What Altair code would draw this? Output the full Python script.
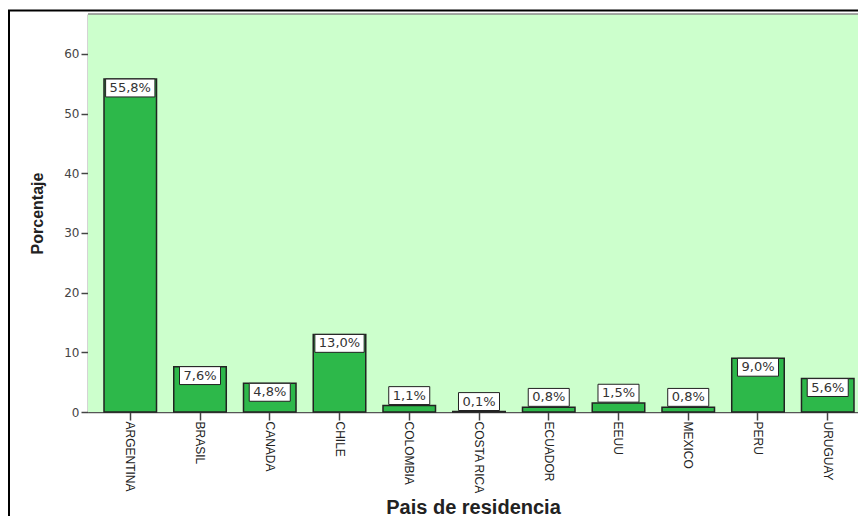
import altair as alt
import pandas as pd

paises = ["ARGENTINA", "BRASIL", "CANADA", "CHILE", "COLOMBIA", "COSTA RICA",
          "ECUADOR", "EEUU", "MEXICO", "PERU", "URUGUAY"]
porcentajes = [55.8, 7.6, 4.8, 13.0, 1.1, 0.1, 0.8, 1.5, 0.8, 9.0, 5.6]
etiquetas = ["55,8%", "7,6%", "4,8%", "13,0%", "1,1%", "0,1%",
             "0,8%", "1,5%", "0,8%", "9,0%", "5,6%"]
y_ticks = [0, 10, 20, 30, 40, 50, 60]

df = pd.DataFrame({"pais": paises, "pct": porcentajes, "etiqueta": etiquetas})

x_axis = alt.Axis(
    title="Pais de residencia", labelAngle=90, labelAlign="left", labelBaseline="middle",
    labelFont="Liberation Sans", labelFontSize=12, labelColor="#222", labelPadding=1,
    tickSize=8, tickColor="#444", tickWidth=1.5, domainColor="#555", domainWidth=1.5,
    titleFont="Liberation Sans", titleFontSize=20, titleFontWeight="bold", titleColor="#222",
    titleY=101, titleBaseline="alphabetic", labelOverlap=False,
)
x_enc = alt.X("pais:N", sort=paises, axis=x_axis,
              scale=alt.Scale(paddingInner=0.247, paddingOuter=0.1434, align=0.8))

y_scale = alt.Scale(domain=[0, 66.7], nice=False, zero=True)
y_axis = alt.Axis(
    title="Porcentaje", values=y_ticks, grid=False, tickSize=7, tickColor="#444", tickWidth=1.5,
    labelFont="DejaVu Sans", labelFontSize=12, labelColor="#444", labelPadding=2,
    domainColor="#555", domainWidth=1.5,
    titleFont="Liberation Sans", titleFontSize=16, titleFontWeight="bold", titleColor="#222",
    titleAngle=270, titleX=-51, titleY=199, titleAlign="center", titleBaseline="middle",
)

one = pd.DataFrame({"a": [0]})

panel = alt.Chart(one).mark_rect(fill="#ccffcc").encode(
    x=alt.value(0), x2=alt.value(1200), y=alt.value(0), y2=alt.value(398)
)
frame = alt.Chart(one).mark_rect(filled=False, stroke="#000", strokeWidth=2).encode(
    x=alt.value(-79), x2=alt.value(1200), y=alt.value(-3.5), y2=alt.value(1200)
)
top_rule = alt.Chart(one).mark_rule(color="#888", strokeWidth=1.5).encode(
    x=alt.value(0), x2=alt.value(1200), y=alt.value(0)
)

base = alt.Chart(df).encode(x=x_enc)

bars = base.mark_bar(fill="#2db84a", stroke="#222", strokeWidth=1.5).encode(
    y=alt.Y("pct:Q", scale=y_scale, axis=y_axis)
)

calc = base.transform_calculate(
    top="datum.pct >= 3.1 ? datum.pct : datum.pct + 3.15",
).transform_calculate(
    bot="datum.top - 3.0",
    mid="datum.top - 1.5",
    w="13 * (0.636 * (length(datum.etiqueta) - 2) + 1.268) + 8",
)

boxes = calc.mark_bar(fill="white", stroke="#222", strokeWidth=1).encode(
    y=alt.Y("top:Q", scale=y_scale, axis=y_axis),
    y2="bot:Q",
    size=alt.Size("w:Q", scale=None, legend=None),
)

texts = calc.mark_text(font="DejaVu Sans", fontSize=13, color="#333", baseline="middle",
                       align="center").encode(
    y=alt.Y("mid:Q", scale=y_scale, axis=y_axis),
    text="etiqueta:N",
)

chart = alt.layer(panel, frame, top_rule, bars, boxes, texts).properties(
    width=770, height=398,
    autosize=alt.AutoSizeParams(type="none"),
    padding={"left": 80, "top": 6, "right": 0, "bottom": 104},
).configure_view(
    stroke=None
).configure(background="white")

chart.save("out.html", embed_options={"renderer": "svg", "actions": False})
